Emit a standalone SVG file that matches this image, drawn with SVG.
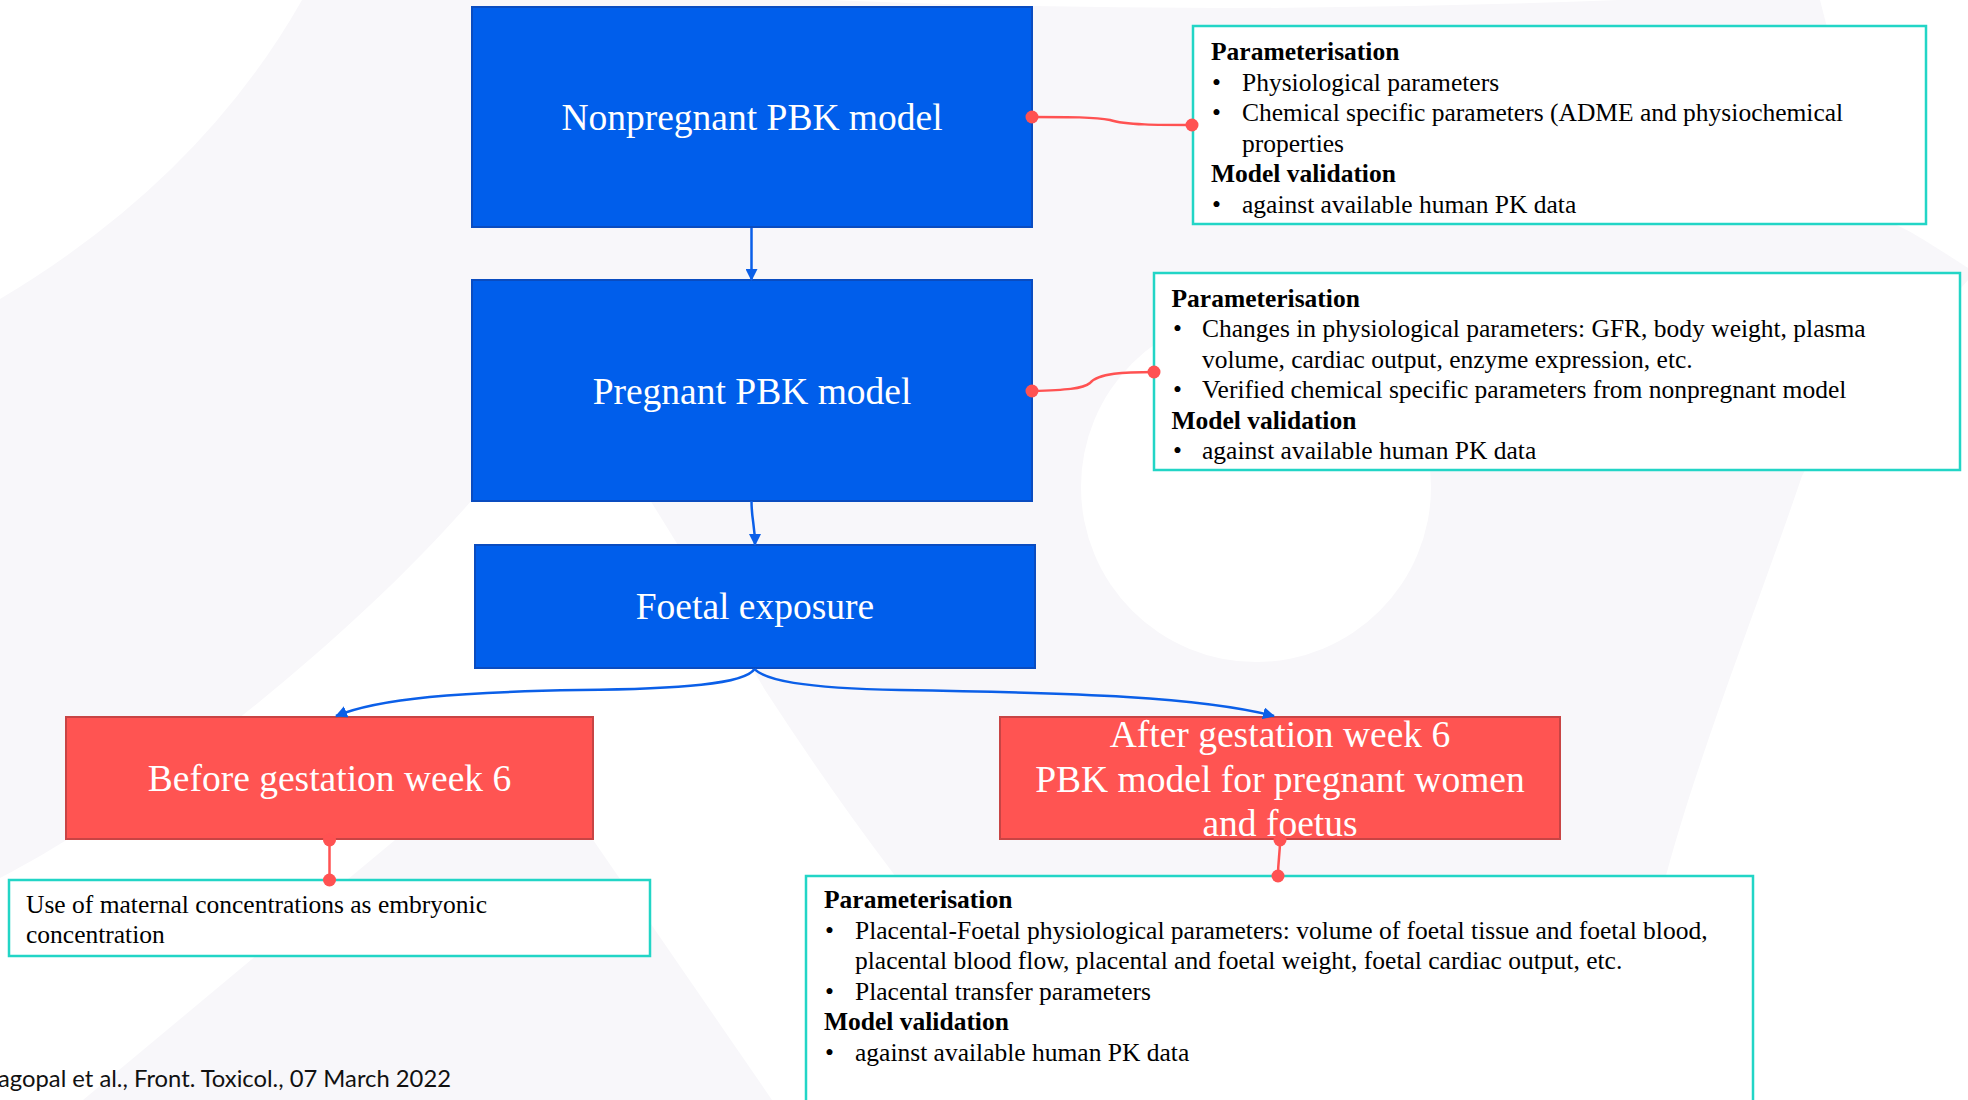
<svg xmlns="http://www.w3.org/2000/svg" width="1968" height="1100" viewBox="0 0 1968 1100">
  <defs>
    <style>
      .bg-lav { fill: #F8F7FA; }
      .bg-white { fill: #FFFFFF; }
      .blue { fill: #005EEB; stroke: #0A4CC0; stroke-width: 2; }
      .red { fill: #FF5452; stroke: #C84444; stroke-width: 2; }
      .note { fill: #FFFFFF; stroke: #22D5C6; stroke-width: 2.5; }
      .title { font-family: "Liberation Serif", "Times New Roman", serif; font-size: 37.5px; fill: #FFFFFF; text-anchor: middle; }
      .body { font-family: "Liberation Serif", "Times New Roman", serif; font-size: 25.5px; fill: #000000; }
      .bold { font-weight: bold; }
      .flow { fill: none; stroke: #0B5FE8; stroke-width: 2.5; }
      .link { fill: none; stroke: #FF5252; stroke-width: 2.5; }
      .dot { fill: #FF5252; }
      .foot { font-family: Lato, "Open Sans", "Liberation Sans", sans-serif; font-size: 23px; fill: #111111; }
    </style>
    <marker id="arrow" viewBox="0 0 12 12" refX="11" refY="6" markerWidth="12" markerHeight="12" markerUnits="userSpaceOnUse" orient="auto">
      <path d="M0,0 L12,6 L0,12 Z" fill="#0B5FE8"/>
    </marker>
  </defs>

  <!-- background -->
  <g id="background">
    <rect class="bg-lav" x="0" y="0" width="1968" height="1100"/>
    <path class="bg-white" d="M0,0 L302,0 Q200,180 0,299 Z"/>
    <path class="bg-white" d="M827,0 Q1220,16 1619,0 Z"/>
    <path class="bg-white" d="M1820,0 L1968,0 L1968,268 C1940,250 1910,230 1892,223 C1860,150 1835,60 1820,0 Z"/>
    <path class="bg-white" d="M1968,280 C1900,360 1830,420 1802,476 C1760,600 1700,750 1667,872 L1590,1100 L1968,1100 Z"/>
    <circle class="bg-white" cx="1256" cy="487" r="175"/>
    <path class="bg-white" d="M472,500 L650,500 Q700,580 765,690 Q830,790 893,873 L1042,1100 L0,1100 L0,878 C150,800 350,640 472,500 Z"/>
    <path class="bg-lav" d="M521,735 L772,1100 L83,1100 Z"/>
  </g>

  <!-- nodes -->
  <g id="node-nonpregnant">
    <rect class="blue" x="472" y="7" width="560" height="220"/>
    <text class="title" x="752" y="130">Nonpregnant PBK model</text>
  </g>

  <g id="node-pregnant">
    <rect class="blue" x="472" y="280" width="560" height="221"/>
    <text class="title" x="752" y="404">Pregnant PBK model</text>
  </g>

  <g id="node-foetal">
    <rect class="blue" x="475" y="545" width="560" height="123"/>
    <text class="title" x="755" y="619">Foetal exposure</text>
  </g>

  <g id="node-before">
    <rect class="red" x="66" y="717" width="527" height="122"/>
    <text class="title" x="329.5" y="791">Before gestation week 6</text>
  </g>

  <g id="node-after">
    <rect class="red" x="1000" y="717" width="560" height="122"/>
    <text class="title" x="1280" y="747">After gestation week 6</text>
    <text class="title" x="1280" y="791.5">PBK model for pregnant women</text>
    <text class="title" x="1280" y="836">and foetus</text>
  </g>

  <g id="note-nonpregnant">
    <rect class="note" x="1193" y="26" width="733" height="198"/>
    <text class="body bold" x="1211" y="60">Parameterisation</text>
    <text class="body" x="1212" y="90.5">•</text>
    <text class="body" x="1242" y="90.5">Physiological parameters</text>
    <text class="body" x="1212" y="121">•</text>
    <text class="body" x="1242" y="121">Chemical specific parameters (ADME and physiochemical</text>
    <text class="body" x="1242" y="151.5">properties</text>
    <text class="body bold" x="1211" y="182">Model validation</text>
    <text class="body" x="1212" y="212.5">•</text>
    <text class="body" x="1242" y="212.5">against available human PK data</text>
  </g>

  <g id="note-pregnant">
    <rect class="note" x="1154" y="273" width="806" height="197"/>
    <text class="body bold" x="1171.5" y="306.5">Parameterisation</text>
    <text class="body" x="1173" y="337">•</text>
    <text class="body" x="1202" y="337">Changes in physiological parameters: GFR, body weight, plasma</text>
    <text class="body" x="1202" y="367.5">volume, cardiac output, enzyme expression, etc.</text>
    <text class="body" x="1173" y="398">•</text>
    <text class="body" x="1202" y="398">Verified chemical specific parameters from nonpregnant model</text>
    <text class="body bold" x="1171.5" y="428.5">Model validation</text>
    <text class="body" x="1173" y="459">•</text>
    <text class="body" x="1202" y="459">against available human PK data</text>
  </g>

  <g id="note-before">
    <rect class="note" x="9" y="880" width="641" height="76"/>
    <text class="body" x="26" y="913">Use of maternal concentrations as embryonic</text>
    <text class="body" x="26" y="943">concentration</text>
  </g>

  <g id="note-after">
    <rect class="note" x="806" y="876" width="947" height="240"/>
    <text class="body bold" x="824" y="908">Parameterisation</text>
    <text class="body" x="825" y="938.5">•</text>
    <text class="body" x="855" y="938.5">Placental-Foetal physiological parameters: volume of foetal tissue and foetal blood,</text>
    <text class="body" x="855" y="969">placental blood flow, placental and foetal weight, foetal cardiac output, etc.</text>
    <text class="body" x="825" y="999.5">•</text>
    <text class="body" x="855" y="999.5">Placental transfer parameters</text>
    <text class="body bold" x="824" y="1030">Model validation</text>
    <text class="body" x="825" y="1060.5">•</text>
    <text class="body" x="855" y="1060.5">against available human PK data</text>
  </g>

  <!-- connectors -->
  <g id="connectors">
    <path class="flow" d="M751.5,228 L751.5,280" marker-end="url(#arrow)"/>
    <path class="flow" d="M751.5,501 C751.5,520 755,525 755,545" marker-end="url(#arrow)"/>
    <path class="flow" d="M754.5,669 C745,684 680,689 580,690 C460,692 380,698 336,716" marker-end="url(#arrow)"/>
    <path class="flow" d="M754.5,669 C765,680 800,688 900,690 C1080,693 1200,697 1274,716" marker-end="url(#arrow)"/>

    <path class="link" d="M1032,117 C1070,117 1095,117 1110,120 C1125,125 1160,125 1192,125"/>
    <circle class="dot" cx="1032" cy="117" r="6.5"/>
    <circle class="dot" cx="1192" cy="125" r="6.5"/>

    <path class="link" d="M1032,391 C1065,390 1083,389 1090,383 C1098,373 1125,372 1154,372"/>
    <circle class="dot" cx="1032" cy="391" r="6.5"/>
    <circle class="dot" cx="1154" cy="372" r="6.5"/>

    <path class="link" d="M329.5,840 L329.5,880"/>
    <circle class="dot" cx="329.5" cy="840" r="6.5"/>
    <circle class="dot" cx="329.5" cy="880" r="6.5"/>

    <path class="link" d="M1280,840 C1280,855 1278,860 1278,876"/>
    <circle class="dot" cx="1280" cy="840" r="6.5"/>
    <circle class="dot" cx="1278" cy="876" r="6.5"/>
  </g>

  <g id="footer">
    <text class="foot" x="-2" y="1087" textLength="453" lengthAdjust="spacingAndGlyphs">agopal et al., Front. Toxicol., 07 March 2022</text>
  </g>
</svg>
